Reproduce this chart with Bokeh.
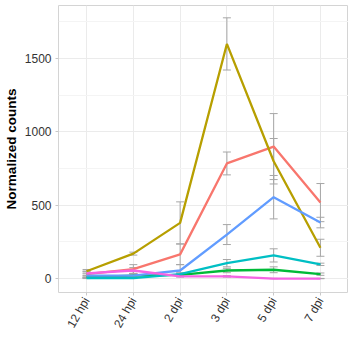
from bokeh.plotting import figure
from bokeh.models import FixedTicker, Range1d, Whisker, ColumnDataSource, Label, TeeHead
from bokeh.embed import file_html
from bokeh.resources import INLINE

categories = ["12 hpi", "24 hpi", "2 dpi", "3 dpi", "5 dpi", "7 dpi"]

red_mean = [30, 65, 165, 785, 900, 518]
red_err = [20, 30, 70, 78, 225, 130]
olive_mean = [50, 170, 380, 1600, 800, 210]
olive_err = [12, 10, 143, 178, 155, 58]
green_mean = [10, 20, 25, 55, 60, 30]
green_err = [8, 10, 10, 15, 20, 8]
cyan_mean = [3, 3, 30, 105, 158, 97]
cyan_err = [3, 3, 10, 25, 45, 8]
blue_mean = [20, 20, 55, 300, 555, 382]
blue_err = [12, 15, 40, 68, 148, 36]
magenta_mean = [35, 55, 15, 15, 0, 0]
magenta_err = [15, 20, 5, 5, 1, 1]

series = [
    (red_mean, red_err, "#F8766D"),
    (olive_mean, olive_err, "#B79F00"),
    (green_mean, green_err, "#00BA38"),
    (cyan_mean, cyan_err, "#00BFC4"),
    (blue_mean, blue_err, "#619CFF"),
    (magenta_mean, magenta_err, "#F564E3"),
]

y_ticks = [0, 500, 1000, 1500]
y_minor = [250, 750, 1250, 1750]
Y0, Y1 = -95, 1862

xs = list(range(len(categories)))

p = figure(width=348, height=358, output_backend="svg", toolbar_location=None,
           x_range=Range1d(-0.6, len(categories) - 0.4), y_range=Range1d(Y0, Y1),
           min_border_left=54, min_border_top=5, min_border_right=0, min_border_bottom=66)
p.background_fill_color = "white"
p.border_fill_color = "white"
p.outline_line_color = "#D4D4D4"
p.outline_line_width = 1

p.xaxis.ticker = FixedTicker(ticks=xs)
p.xaxis.major_label_overrides = {i: c for i, c in enumerate(categories)}
p.yaxis.ticker = FixedTicker(ticks=y_ticks, minor_ticks=y_minor)
p.xgrid.ticker = FixedTicker(ticks=xs)
p.ygrid.ticker = FixedTicker(ticks=y_ticks, minor_ticks=y_minor)
for g in (p.xgrid, p.ygrid):
    g.grid_line_color = "#EBEBEB"
    g.grid_line_width = 1
p.ygrid.minor_grid_line_color = "#F4F4F4"
p.ygrid.minor_grid_line_width = 1

for ax in (p.xaxis, p.yaxis):
    ax.axis_line_color = None
    ax.major_tick_line_color = "#C8C8C8"
    ax.major_tick_in = 0
    ax.major_tick_out = 3
    ax.minor_tick_line_color = None
    ax.major_label_text_font = "Liberation Sans"
    ax.major_label_text_font_size = "12px"
    ax.major_label_text_color = "#333333"
    ax.major_label_standoff = 3

p.xaxis.major_label_orientation = 1.047
p.yaxis.axis_label = "Normalized counts"
p.yaxis.axis_label_text_font = "Liberation Sans"
p.yaxis.axis_label_text_font_size = "13.5px"
p.yaxis.axis_label_text_font_style = "bold"
p.yaxis.axis_label_text_color = "black"
p.yaxis.axis_label_standoff = 3

for mean, err, color in series:
    src = ColumnDataSource(dict(x=xs, y=mean,
                                lo=[m - e for m, e in zip(mean, err)],
                                hi=[m + e for m, e in zip(mean, err)]))
    w = Whisker(source=src, base="x", lower="lo", upper="hi",
                line_color="#A6A6A6", line_width=1, level="underlay",
                upper_head=TeeHead(size=8, line_color="#A6A6A6", line_width=1),
                lower_head=TeeHead(size=8, line_color="#A6A6A6", line_width=1))
    p.add_layout(w)

for mean, err, color in series:
    p.line(xs, mean, line_color=color, line_width=2.3)

ylab = Y0 - (342 - 292) * (Y1 - Y0) / 287
p.add_layout(Label(x=2.34, y=ylab, text="In planta", text_align="right", text_baseline="middle",
                   text_font="Liberation Sans", text_font_size="13px", text_font_style="bold italic",
                   text_color="black"))
p.add_layout(Label(x=2.40, y=ylab, text="time points", text_align="left", text_baseline="middle",
                   text_font="Liberation Sans", text_font_size="13px", text_font_style="bold",
                   text_color="black"))

open("out.html", "w").write(file_html(p, INLINE))
